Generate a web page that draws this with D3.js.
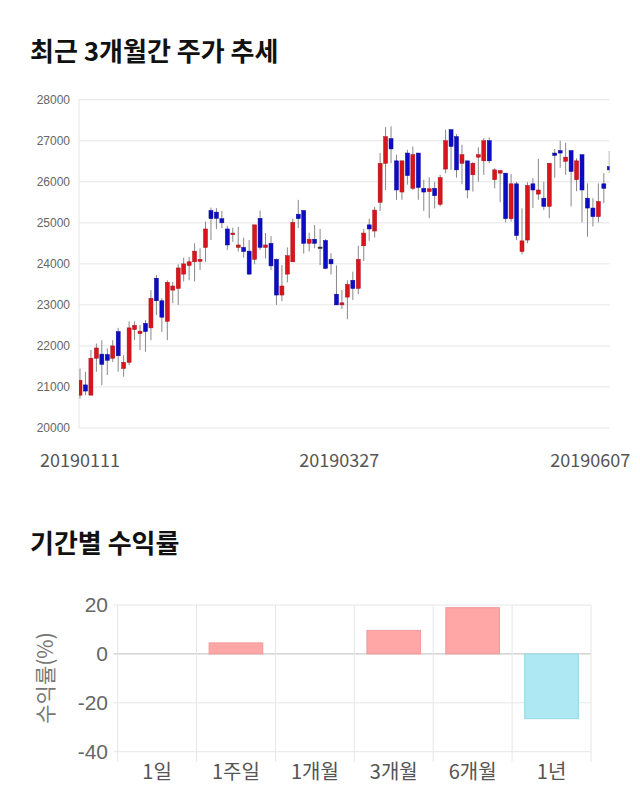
<!DOCTYPE html>
<html><head><meta charset="utf-8">
<script src="https://cdn.jsdelivr.net/npm/d3@7"></script>
<style>html,body{margin:0;padding:0;background:#fff;}svg{display:block;}</style>
</head><body>
<svg id="c" width="640" height="810"></svg>
<script>
// ---- Candlestick data (daily OHLC) ----
const opens  = [20800,21050,20800,21700,21800,21790,21700,22350,21450,21600,22400,22300,22550,22440,23650,23100,22600,23360,23400,23750,23960,24050,24060,24400,25300,25260,25100,24850,24710,24400,24400,24310,24110,25110,24400,24500,24110,23240,23750,24050,25210,25300,24500,24600,24410,24570,24110,23260,23000,23190,23600,23400,24440,24950,24800,25500,26450,27050,26510,25750,26700,25840,26700,25840,25760,25840,25450,26310,27270,27100,26450,26510,26170,26600,26510,27000,26050,26210,26210,25100,25950,24300,24580,25950,25700,25600,25400,26700,26760,26500,26760,26050,26660,25600,25360,25150,25950,26370];
const highs  = [21450,21370,21900,22060,22140,21940,22140,22440,21775,22600,22600,22510,22630,23360,23730,23160,23600,23560,23990,24150,24170,24500,24380,25030,25370,25360,25290,24930,24880,24900,24640,24580,24950,25300,24750,24680,24130,23970,24400,25100,25560,25300,24760,24950,24850,24600,24260,23960,23360,23600,23810,24440,24850,25100,25390,26700,27330,27350,26660,26510,26780,26860,26700,26050,26110,26000,26170,27270,27270,27160,26900,26510,26480,26840,27060,27080,26330,26290,26210,26190,26000,25350,25990,26090,26560,26000,26450,26800,27000,26950,26760,26570,26660,25960,25600,25960,26210,26750];
const lows   = [20720,20800,20800,21370,21040,21290,21610,21370,21250,21530,22140,21900,21860,22140,22750,22340,22140,23040,23000,23570,23600,23570,23850,24050,24580,24850,24870,24340,24540,24300,24150,23730,23990,24340,24130,23850,23000,23090,23550,24050,24870,24250,24300,24380,23970,23870,23740,23000,22900,22650,23120,23260,24070,24560,24640,25290,25800,26450,25560,25560,25930,25800,25560,25290,25110,25350,25400,26210,26290,26100,25940,25600,25760,26000,26170,26450,25840,25500,25010,25030,24580,24230,24500,25360,25560,25310,25110,26100,26340,26170,25400,25770,25010,24660,24910,25010,25480,26210];
const closes = [21165,20900,21700,21950,21550,21650,22000,21760,21600,22440,22500,22360,22350,23160,23100,22700,23550,23460,23900,24000,24050,24310,24110,24850,25100,25110,25000,24460,24750,24460,24300,23750,24950,24400,24460,23950,23240,23460,24200,25010,25100,24500,24600,24500,24410,23890,24000,23000,23050,23500,23400,24110,24750,24850,25310,26450,27100,26800,25800,26510,26150,26660,25860,25750,25830,25660,26100,27000,26860,26290,26660,25800,26450,26660,27000,26510,26290,26270,25100,25950,24690,24560,25910,25800,25800,25400,26450,26640,26700,26600,26250,26510,25800,25360,25150,25520,25840,26290];
const priceTicks = [20000,21000,22000,23000,24000,25000,26000,27000,28000];
const dateLabels = ["20190111","20190327","20190607"];
const dateLabelIdx = [0,47.5,93.5];

// ---- Return-by-period data ----
const periods = ["1일","1주일","1개월","3개월","6개월","1년"];
const returns = [0,4.5,0,9.6,18.9,-26.5];
const returnTicks = [20,0,-20,-40];

const svg = d3.select("#c");
const KR = "'Noto Sans CJK KR','Noto Sans',sans-serif";

// Titles
svg.append("text").attr("x",30).attr("y",61).text("최근 3개월간 주가 추세")
  .attr("font-family",KR).attr("font-weight","bold").attr("font-size",26).attr("fill","#111");
svg.append("text").attr("x",30).attr("y",553).text("기간별 수익률")
  .attr("font-family",KR).attr("font-weight","bold").attr("font-size",26).attr("fill","#111");

// ---- Candlestick chart ----
const L=79, R=609.5, T=99.7, B=428;
const n = opens.length;
const x = d3.scaleLinear().domain([0,n-1]).range([80,609.3]);
const y = d3.scaleLinear().domain([20000,28000]).range([B,T]);

const g1 = svg.append("g");
g1.selectAll("line.grid").data(priceTicks).join("line")
  .attr("x1",L).attr("x2",R).attr("y1",d=>y(d)).attr("y2",d=>y(d))
  .attr("stroke","#e6e6e6").attr("stroke-width",1);
g1.append("line").attr("x1",L).attr("x2",L).attr("y1",T).attr("y2",B).attr("stroke","#e6e6e6");
g1.selectAll("text.yt").data(priceTicks).join("text")
  .attr("x",70).attr("y",d=>y(d)+4).attr("text-anchor","end").text(d=>d)
  .attr("font-family","'Liberation Sans',Arial,sans-serif").attr("font-size",12).attr("fill","#666");
g1.selectAll("text.xt").data(dateLabels).join("text")
  .attr("x",(d,i)=>x(dateLabelIdx[i])).attr("y",467).attr("text-anchor","middle").text(d=>d)
  .attr("font-family",KR).attr("font-size",18).attr("fill","#555");

svg.append("clipPath").attr("id","pc").append("rect").attr("x",L).attr("y",T-10).attr("width",R-L).attr("height",B-T+20);
const cg = g1.append("g").attr("clip-path","url(#pc)");
const idx = d3.range(n);
const col = i => closes[i]>opens[i] ? "#d9141b" : (closes[i]<opens[i] ? "#0c0cc4" : "#333");
const scol = i => closes[i]>opens[i] ? "#a8101a" : (closes[i]<opens[i] ? "#08089a" : "#333");
cg.selectAll("line.w").data(idx).join("line")
  .attr("x1",i=>x(i)).attr("x2",i=>x(i)).attr("y1",i=>y(highs[i])).attr("y2",i=>y(lows[i]))
  .attr("stroke","#888").attr("stroke-width",1);
cg.selectAll("rect.b").data(idx).join("rect")
  .attr("x",i=>x(i)-2).attr("width",4)
  .attr("y",i=>y(Math.max(opens[i],closes[i])))
  .attr("height",i=>Math.max(1.5,Math.abs(y(opens[i])-y(closes[i]))))
  .attr("fill",col).attr("stroke",scol).attr("stroke-width",0.5);

// ---- Returns bar chart ----
const L2=117.6, R2=591, T2=605, B2=751.7;
const xb = d3.scaleBand().domain(periods).range([L2,R2]);
const yb = d3.scaleLinear().domain([-40,20]).range([B2,T2]);
const g2 = svg.append("g");
g2.selectAll("line.hg").data(returnTicks).join("line")
  .attr("x1",L2-4).attr("x2",R2).attr("y1",d=>yb(d)).attr("y2",d=>yb(d))
  .attr("stroke",d=>d===0?"#bdbdbd":"#e6e6e6").attr("stroke-width",1);
const bounds = periods.map(p=>xb(p)).concat([R2]);
g2.selectAll("line.vg").data(bounds).join("line")
  .attr("x1",d=>d).attr("x2",d=>d).attr("y1",T2).attr("y2",B2+10)
  .attr("stroke","#e6e6e6").attr("stroke-width",1);
g2.selectAll("text.yt").data(returnTicks).join("text")
  .attr("x",108).attr("y",d=>yb(d)+7).attr("text-anchor","end").text(d=>d)
  .attr("font-family","'Liberation Sans',Arial,sans-serif").attr("font-size",21).attr("fill","#666");
g2.selectAll("text.xt").data(periods).join("text")
  .attr("x",d=>xb(d)+xb.bandwidth()/2).attr("y",779).attr("text-anchor","middle").text(d=>d)
  .attr("font-family",KR).attr("font-size",20).attr("fill","#555");
g2.append("text").attr("transform","translate(53,678) rotate(-90)").attr("text-anchor","middle")
  .text("수익률(%)").attr("font-family",KR).attr("font-size",21).attr("fill","#777");
const bw = xb.bandwidth()*0.68;
g2.selectAll("rect.bar").data(periods).join("rect")
  .attr("x",d=>xb(d)+(xb.bandwidth()-bw)/2).attr("width",bw)
  .attr("y",(d,i)=>yb(Math.max(0,returns[i])))
  .attr("height",(d,i)=>Math.abs(yb(returns[i])-yb(0)))
  .attr("fill",(d,i)=>returns[i]>=0?"#ffa6a6":"#aee8f2")
  .attr("stroke",(d,i)=>returns[i]>=0?"#f09a9a":"#96d6e2").attr("stroke-width",1);
</script>
</body></html>
